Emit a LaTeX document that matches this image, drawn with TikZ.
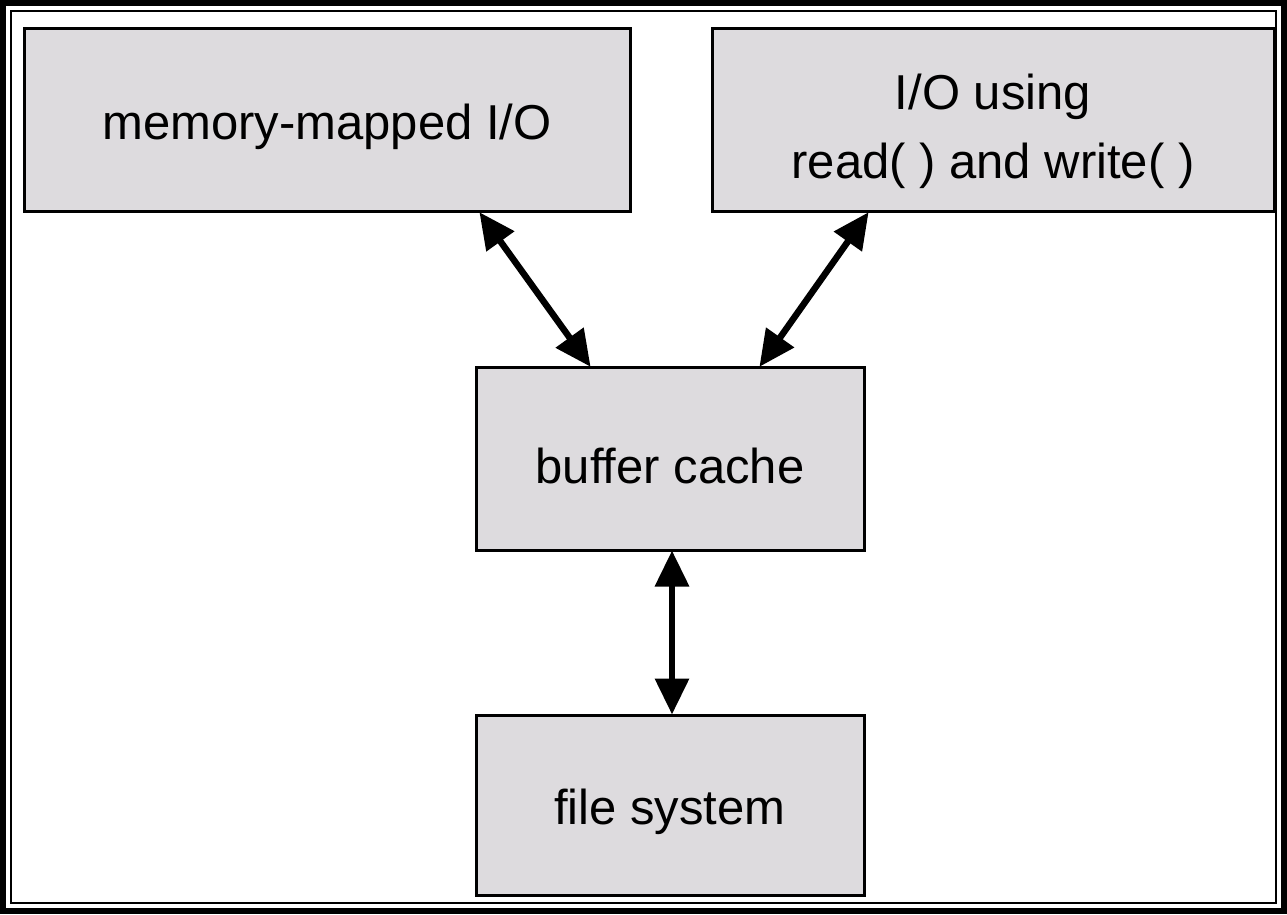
\documentclass[tikz,border=0pt]{standalone}
\usepackage{fontspec}
\setmainfont{Liberation Sans}
\usetikzlibrary{arrows.meta}
\definecolor{boxfill}{RGB}{221,219,222}
\begin{document}
\begin{tikzpicture}[x=1pt,y=-1pt,
  blk/.style={draw=black,line width=3pt,fill=boxfill,inner sep=0pt,font=\fontsize{49}{69}\selectfont,align=center},
  txt/.style={label={[font=\fontsize{49}{69}\selectfont,align=center,yshift=-7pt]center:#1}},
  txtb/.style={label={[font=\fontsize{49}{69}\selectfont,align=center,yshift=-12pt]center:#1}},
  conn/.style={line width=6.5pt,{Triangle[length=36pt,width=33pt]}-{Triangle[length=36pt,width=33pt]},shorten <=-1pt,shorten >=-1pt}]
\useasboundingbox (0,0) rectangle (1287,914);
\fill[white] (0,0) rectangle (1287,914);
\draw[line width=6pt] (3,3) rectangle (1284,911);
\draw[line width=2pt] (11,11) rectangle (1276,903);
\node[blk,minimum width=606pt,minimum height=183pt,txt={memory-mapped I/O}] (mm) at (327,119.5) {};
\node[blk,minimum width=562pt,minimum height=183pt,txtb={I/O using\\read( ) and write( )}] (rw) at (993,119.5) {};
\node[blk,minimum width=388pt,minimum height=183pt,txt={buffer cache}] (bc) at (670,458.5) {};
\node[blk,minimum width=388pt,minimum height=180pt,txt={file system}] (fs) at (670,805) {};
\coordinate (a1) at (480,213);
\coordinate (b1) at (590,366);
\coordinate (a2) at (868,213);
\coordinate (b2) at (760,366);
\draw[conn] (a1) -- (b1);
\draw[conn] (a2) -- (b2);
\draw[conn] (bc.south -| 672,0) -- (fs.north -| 672,0);
\end{tikzpicture}
\end{document}
